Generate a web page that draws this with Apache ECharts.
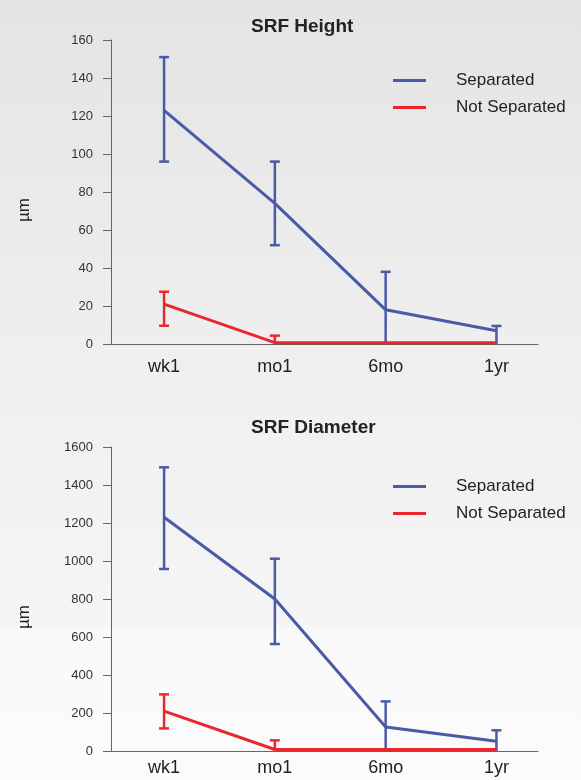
<!DOCTYPE html>
<html>
<head>
<meta charset="utf-8">
<title>SRF Height / SRF Diameter</title>
<script src="https://cdn.jsdelivr.net/npm/echarts@6/dist/echarts.min.js"></script>
<style>
  html, body { margin: 0; padding: 0; }
  #ec { width: 581px; height: 780px; }
</style>
</head>
<body>
<div id="ec"></div>
<script>
// 时间点
var categories = ['wk1', 'mo1', '6mo', '1yr'];

// SRF Height (µm)
var heightSepMean = [123, 74, 18, 7];
var heightSepLow = [96, 52, 0, 0];
var heightSepHigh = [151, 96, 38, 9.5];
var heightNotMean = [21, 0.7, 0.7, 0.7];
var heightNotLow = [9.6, 0, null, null];
var heightNotHigh = [27.5, 4.4, null, null];

// SRF Diameter (µm)
var diamSepMean = [1230, 800, 126, 51];
var diamSepLow = [958, 563, 0, 0];
var diamSepHigh = [1493, 1012, 261, 109];
var diamNotMean = [210, 8, 8, 8];
var diamNotLow = [119, 0, null, null];
var diamNotHigh = [298, 56, null, null];

var heightTicks = { min: 0, max: 160, interval: 20 };
var diamTicks = { min: 0, max: 1600, interval: 200 };

var BLUE = '#4a5aa6';
var RED = '#e8282d';
var FONT = "'Liberation Sans', Arial, sans-serif";

var ec = echarts.init(document.getElementById('ec'));

// 折线数据
function toLine(mean) {
  return mean.map(function(v, i) { return [i, v]; });
}
// 误差线数据
function toErr(low, high) {
  var arr = [];
  low.forEach(function(v, i) {
    if (v == null || high[i] == null) return;
    arr.push([i, v, high[i]]);
  });
  return arr;
}

function errRender(params, api) {
  var x = api.coord([api.value(0), api.value(1)])[0];
  var yLow = api.coord([api.value(0), api.value(1)])[1];
  var yHigh = api.coord([api.value(0), api.value(2)])[1];
  var style = { stroke: api.visual('color'), lineWidth: 2.5 };
  var children = [
    { type: 'line', shape: { x1: x, y1: yLow, x2: x, y2: yHigh }, style: style },
    { type: 'line', shape: { x1: x - 5, y1: yHigh, x2: x + 5, y2: yHigh }, style: style }
  ];
  // 下端为0时不画横线
  if (api.value(1) > 0) {
    children.push({ type: 'line', shape: { x1: x - 5, y1: yLow, x2: x + 5, y2: yLow }, style: style });
  }
  return { type: 'group', children: children };
}

function xAxisOf(gridIndex, margin) {
  return {
    type: 'value',
    gridIndex: gridIndex,
    min: -0.479,
    max: 3.375,
    axisLine: { show: true, onZero: false, lineStyle: { color: '#666', width: 1 } },
    axisTick: { show: false },
    splitLine: { show: false },
    axisLabel: {
      customValues: [0, 1, 2, 3],
      formatter: function(v) { return categories[Math.round(v)]; },
      margin: margin,
      fontFamily: FONT,
      fontSize: 18,
      color: '#222'
    }
  };
}

function yAxisOf(gridIndex, t) {
  return {
    type: 'value',
    gridIndex: gridIndex,
    min: t.min,
    max: t.max,
    interval: t.interval,
    name: 'µm',
    nameLocation: 'middle',
    nameRotate: 90,
    nameGap: 78,
    nameTextStyle: { fontFamily: FONT, fontSize: 17, color: '#222', padding: [0, 36, 0, 0] },
    axisLine: { show: true, onZero: false, lineStyle: { color: '#666', width: 1 } },
    axisTick: { show: true, length: 8, lineStyle: { color: '#666' } },
    splitLine: { show: false },
    axisLabel: {
      margin: 18, fontFamily: FONT, fontSize: 13, color: '#333',
      formatter: function(v) { return String(v); }
    }
  };
}

function legendOf(top) {
  return {
    orient: 'vertical',
    left: 393,
    top: top,
    padding: 0,
    itemGap: 8,
    itemWidth: 33,
    itemHeight: 3,
    icon: 'rect',
    selectedMode: false,
    textStyle: { fontFamily: FONT, fontSize: 17, color: '#222', lineHeight: 19, padding: [0, 0, 0, 25] },
    data: ['Separated', 'Not Separated']
  };
}

var option = {
  backgroundColor: {
    type: 'linear', x: 0, y: 0, x2: 0, y2: 1,
    colorStops: [
      { offset: 0, color: '#e4e4e4' },
      { offset: 0.5, color: '#f0f0f0' },
      { offset: 0.8, color: '#f5f5f5' },
      { offset: 0.81, color: '#f9f9f9' },
      { offset: 1, color: '#fbfbfb' }
    ]
  },
  animation: false,
  title: [
    { text: 'SRF Height', left: 246, top: 12, textStyle: { fontFamily: FONT, fontSize: 19, fontWeight: 'bold', color: '#222' } },
    { text: 'SRF Diameter', left: 246, top: 413, textStyle: { fontFamily: FONT, fontSize: 19, fontWeight: 'bold', color: '#222' } }
  ],
  legend: [legendOf(71), legendOf(477)],
  grid: [
    { left: 111, width: 427, top: 40, height: 304 },
    { left: 111, width: 427, top: 447, height: 304 }
  ],
  xAxis: [xAxisOf(0, 14), xAxisOf(1, 8)],
  yAxis: [yAxisOf(0, heightTicks), yAxisOf(1, diamTicks)],
  series: [
    { name: 'Separated', type: 'custom', xAxisIndex: 0, yAxisIndex: 0, itemStyle: { color: BLUE }, renderItem: errRender, encode: { x: 0, y: [1, 2] }, data: toErr(heightSepLow, heightSepHigh), z: 2 },
    { name: 'Not Separated', type: 'custom', xAxisIndex: 0, yAxisIndex: 0, itemStyle: { color: RED }, renderItem: errRender, encode: { x: 0, y: [1, 2] }, data: toErr(heightNotLow, heightNotHigh), z: 2 },
    { name: 'Separated', type: 'line', xAxisIndex: 0, yAxisIndex: 0, symbol: 'none', color: BLUE, lineStyle: { color: BLUE, width: 3 }, data: toLine(heightSepMean), z: 3 },
    { name: 'Not Separated', type: 'line', xAxisIndex: 0, yAxisIndex: 0, symbol: 'none', color: RED, lineStyle: { color: RED, width: 3 }, data: toLine(heightNotMean), z: 4 },

    { name: 'Separated', type: 'custom', xAxisIndex: 1, yAxisIndex: 1, itemStyle: { color: BLUE }, renderItem: errRender, encode: { x: 0, y: [1, 2] }, data: toErr(diamSepLow, diamSepHigh), z: 2 },
    { name: 'Not Separated', type: 'custom', xAxisIndex: 1, yAxisIndex: 1, itemStyle: { color: RED }, renderItem: errRender, encode: { x: 0, y: [1, 2] }, data: toErr(diamNotLow, diamNotHigh), z: 2 },
    { name: 'Separated', type: 'line', xAxisIndex: 1, yAxisIndex: 1, symbol: 'none', color: BLUE, lineStyle: { color: BLUE, width: 3 }, data: toLine(diamSepMean), z: 3 },
    { name: 'Not Separated', type: 'line', xAxisIndex: 1, yAxisIndex: 1, symbol: 'none', color: RED, lineStyle: { color: RED, width: 3 }, data: toLine(diamNotMean), z: 4 }
  ]
};
ec.setOption(option);
</script>
</body>
</html>
